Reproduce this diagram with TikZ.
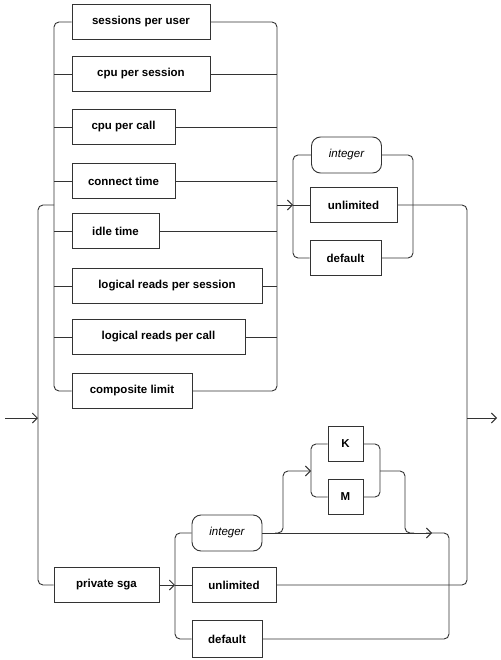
\documentclass[tikz,border=0pt]{standalone}
\usepackage{fontspec}
\setmainfont{Liberation Sans}
\usetikzlibrary{arrows.meta}
\begin{document}
\begin{tikzpicture}[x=1pt,y=-1pt,
  ln/.style={draw=black!80,line width=0.9pt,rounded corners=5pt},
  arr/.style={ln,-{Straight Barb[length=5pt,width=10pt,line width=0.9pt]}},
  kw/.style={draw=black!80,line width=0.9pt,fill=white,inner sep=0pt,minimum height=35pt,font=\fontsize{11.5}{13}\selectfont\bfseries},
  nt/.style={draw=black!80,line width=0.9pt,fill=white,inner sep=0pt,minimum height=36pt,minimum width=70pt,rounded corners=9pt,font=\fontsize{11.5}{13}\selectfont\itshape}]
\useasboundingbox (0,0) rectangle (500,660);
% upper left group
\node[kw,minimum width=138pt] (spu) at (141,22) {sessions per user};
\node[kw,minimum width=138pt] (cps) at (141,74) {cpu per session};
\node[kw,minimum width=103pt] (cpc) at (123.5,127) {cpu per call};
\node[kw,minimum width=103pt] (ct) at (123.5,181) {connect time};
\node[kw,minimum width=87pt] (it) at (115.5,231) {idle time};
\node[kw,minimum width=190pt] (lrps) at (167,286) {logical reads per session};
\node[kw,minimum width=173pt] (lrpc) at (158.5,337) {logical reads per call};
\node[kw,minimum width=120pt] (cl) at (132,391) {composite limit};
% upper right group
\node[nt] (int1) at (346.5,155) {integer};
\node[kw,minimum width=87pt] (unl1) at (353.5,205) {unlimited};
\node[kw,minimum width=71pt] (def1) at (345.5,258) {default};
% bottom
\node[kw,minimum width=105pt] (psga) at (106.5,585) {private sga};
\node[nt] (int2) at (227,533) {integer};
\node[kw,minimum width=84pt] (unl2) at (234,585) {unlimited};
\node[kw,minimum width=70pt,minimum height=37pt] (def2) at (227,639) {default};
\node[kw,minimum width=35pt] (K) at (345.5,444) {K};
\node[kw,minimum width=35pt] (M) at (345.5,497) {M};
% coordinates
\coordinate (start) at (5,418);
\coordinate (inrail) at (38,418);
\coordinate (oltop) at (38,205);
\coordinate (olbot) at (38,585);
\coordinate (gl) at (54,205);
\coordinate (jout) at (277,205);
\coordinate (jin) at (293,205);
\coordinate (ortop) at (467,205);
\coordinate (orbot) at (467,585);
\coordinate (exitsrc) at (467,418);
\coordinate (exit) at (497,418);
% entry and outer left
\draw[arr] (start) -- (inrail);
\draw[ln] (gl) -- (oltop) -- (olbot) -- (psga.west);
% upper left group rails
\draw[ln] (spu.west) -- (54,22) -- (54,391) -- (cl.west);
\draw[ln] (spu.east) -- (277,22) -- (277,391) -- (cl.east);
\foreach \n in {cps,cpc,ct,it,lrps,lrpc}{
  \draw[ln] (54,0 |- \n.west) -- (\n.west);
  \draw[ln] (\n.east) -- (277,0 |- \n.east);
}
\draw[arr] (jout) -- (jin);
% upper right group
\draw[ln] (int1.west) -- (293,155) -- (293,258) -- (def1.west);
\draw[ln] (jin) -- (unl1.west);
\draw[ln] (int1.east) -- (413,155) -- (413,258) -- (def1.east);
\draw[ln] (unl1.east) -- (ortop) -- (orbot) -- (unl2.east);
\draw[arr] (exitsrc) -- (exit);
% bottom group
\draw[arr] (psga.east) -- (175,585);
\draw[ln] (int2.west) -- (175,533) -- (175,639) -- (def2.west);
\draw[ln] (175,585) -- (unl2.west);
\draw[arr] (int2.east) -- (432,533);
\draw[ln] (426,533) -- (449,533) -- (449,639) -- (def2.east);
% K / M branch
\draw[arr] (275,533) -- (283,533) -- (283,471) -- (311,471);
\draw[ln] (K.west) -- (311,444) -- (311,497) -- (M.west);
\draw[ln] (K.east) -- (380,444) -- (380,497) -- (M.east);
\draw[ln] (380,471) -- (405,471) -- (405,533) -- (414,533);
\end{tikzpicture}
\end{document}
